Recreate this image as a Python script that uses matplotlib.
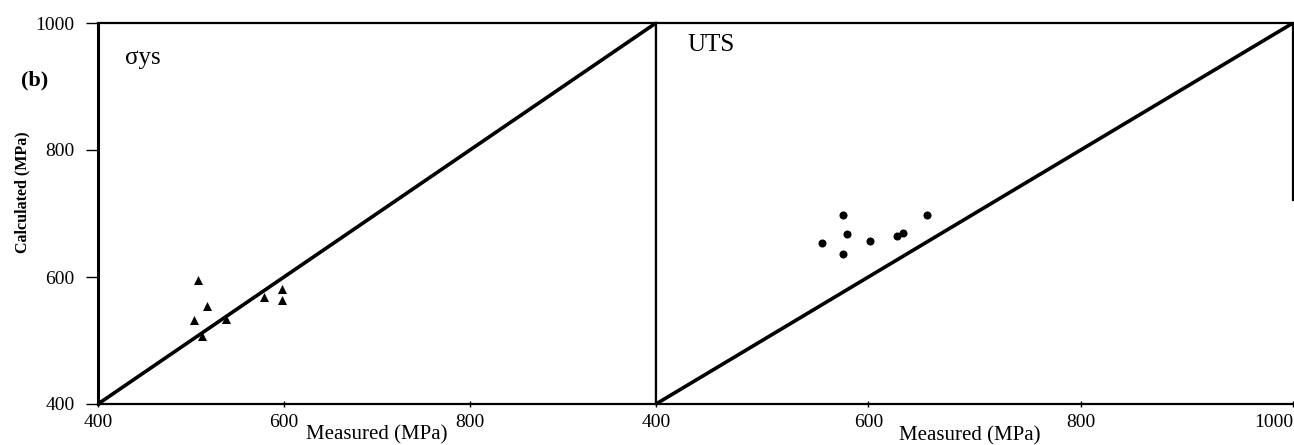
"""
Measured vs calculated strength plot - yield stress and UTS panels
"""

# Imports
import matplotlib
matplotlib.use("Agg")
import matplotlib.pyplot as plt

# Data ###################################################################################################################
# Yield stress panel (triangles)
ys_measured = [507, 517, 503, 512, 538, 578, 598, 598]
ys_calculated = [596, 554, 532, 507, 534, 569, 581, 564]

# UTS panel (dots)
uts_measured = [576, 655, 580, 556, 602, 627, 633, 576]
uts_calculated = [697, 698, 668, 653, 657, 665, 670, 636]

# Axis ticks
ticks_left_x = [400, 600, 800]
ticks_right_x = [400, 600, 800, 1000]
ticks_y = [400, 600, 800, 1000]
axisLim = [400, 1000]

# Style ##################################################################################################################
plt.rcParams["font.family"] = ["Liberation Serif", "DejaVu Serif"]
W, H = 1294, 445
dpi = 100.0

fig = plt.figure(figsize=(W / dpi, H / dpi), dpi=dpi)

# Pixel based placement of the two panels
def PixAxes(x0, x1, y0, y1):
    '''
    Create axes from pixel edges (top-left origin)
    '''
    return fig.add_axes([x0 / W, 1 - y1 / H, (x1 - x0) / W, (y1 - y0) / H])

axL = PixAxes(98, 656, 23, 404)
axR = PixAxes(656, 1293, 23, 404)

for ax in [axL, axR]:
    ax.set_xlim(axisLim)
    ax.set_ylim(axisLim)
    ax.plot(axisLim, axisLim, color="black", lw=2.6, solid_capstyle="butt", zorder=3)
    for s in ax.spines.values():
        s.set_linewidth(1.6)
    ax.tick_params(axis="x", direction="inout", length=5, width=1, labelsize=14, pad=5)

# Left panel
axL.scatter(ys_measured, ys_calculated, marker="^", s=6.5**2, color="black", linewidths=0, zorder=4)
axL.set_xticks(ticks_left_x)
axL.set_yticks(ticks_y)
axL.tick_params(axis="y", direction="out", length=9, width=1, labelsize=14, pad=8)
axL.spines["left"].set_linewidth(2.2)
axL.text(0.048, 0.908, "σys", transform=axL.transAxes, fontsize=18, va="center", ha="left")

# Right panel
axR.scatter(uts_measured, uts_calculated, marker="o", s=5.8**2, color="black", linewidths=0, zorder=4)
axR.set_xticks(ticks_right_x)
axR.set_yticks([])
axR.spines["right"].set_bounds(722, 1000)
axR.text(0.049, 0.942, "UTS", transform=axR.transAxes, fontsize=18, va="center", ha="left")
lastLabel = axR.get_xticklabels()[-1]
lastLabel.set_horizontalalignment("right")

# Labels
fig.text(22 / W, 1 - 192 / H, "Calculated (MPa)", rotation=90, fontsize=11.5, fontweight="bold",
         ha="center", va="center")
fig.text(35 / W, 1 - 80 / H, "(b)", fontsize=16, fontweight="bold", ha="center", va="center")
fig.text(377 / W, 1 - 435 / H, "Measured (MPa)", fontsize=15, ha="center", va="center")
fig.text(970 / W, 1 - 436 / H, "Measured (MPa)", fontsize=15, ha="center", va="center")

fig.savefig("out.png", dpi=dpi)
